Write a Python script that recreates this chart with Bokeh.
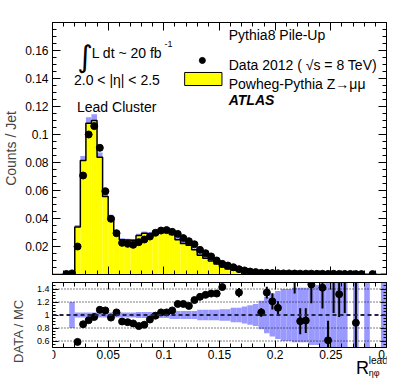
import math
from bokeh.plotting import figure
from bokeh.models import Range1d, FixedTicker, LinearAxis, Label, Span, ColumnDataSource
from bokeh.layouts import column
from bokeh.embed import file_html
from bokeh.resources import INLINE

nan = float("nan")

# ---------------- data ----------------
bin_width = 0.005
n_bins = 60

# MC (Powheg-Pythia Z->mumu), counts / jet per bin
mc = [0, 0, 0, 0.0004, 0.034, 0.0814, 0.108, 0.110, 0.0838, 0.0557,
      0.041, 0.0284, 0.0249, 0.0246, 0.0244, 0.0278, 0.0294, 0.0291, 0.0301, 0.0302,
      0.0305, 0.0285, 0.0248, 0.0222, 0.0209, 0.0176, 0.0137, 0.0116, 0.0097, 0.0075,
      0.0053, 0.0040, 0.0033, 0.0028, 0.0018, 0.0013, 0.0011, 0.00115, 0.0009, 0.0008,
      0.0008, 0.0005, 0.0005, 0.0004, 0.00066, 0.00066, 0.0004, 0.0003, 0.00035, 0.00066,
      0.0003, 0.0003, 0.0002, 0, 0.00034, 0, 0.0002, 0, 0, 0.0002]

# Data 2012
data = [nan, nan, 0.0004, 0.0008, 0.020, 0.0707, 0.100, 0.106, 0.0905, 0.0595,
        0.0398, 0.0295, 0.0226, 0.0219, 0.0212, 0.0231, 0.0250, 0.0271, 0.0298, 0.0314,
        0.0317, 0.0305, 0.0290, 0.0260, 0.0238, 0.0216, 0.0176, 0.0152, 0.0129, 0.0100,
        0.0076, 0.0064, 0.0052, 0.0038, 0.0029, 0.0021, 0.0017, 0.0012, 0.0012, 0.0010,
        0.0009, 0.0008, 0.0008, 0.0007, 0.0006, 0.0006, 0.0006, 0.0005, 0.0005, 0.0004,
        0.0005, 0.0004, 0.0004, 0.0004, 0.0003, 0.0003, nan, 0.0003, nan, nan]

# relative MC uncertainty (band half width)
band_hw = [0, 0, 0, 0.2, 0.04, 0.04, 0.04, 0.04, 0.04, 0.04,
           0.04, 0.04, 0.04, 0.04, 0.04, 0.045, 0.045, 0.045, 0.045, 0.045,
           0.045, 0.06, 0.06, 0.06, 0.06, 0.06, 0.08, 0.08, 0.08, 0.08,
           0.09, 0.09, 0.11, 0.11, 0.13, 0.15, 0.17, 0.22, 0.28, 0.33,
           0.37, 0.40, 0.40, 0.42, 0.42, 0.42, 0.46, 0.46, 0.5, 0.5,
           0.5, 0.5, 0.5, 0, 1.0, 0, 1.0, 0, 0, 1.0]

# DATA / MC ratio and its error
ratio = [nan, nan, nan, nan, 0.586, 0.857, 0.92, 0.97, 1.08, 1.07,
         0.96, 1.04, 0.90, 0.89, 0.87, 0.83, 0.85, 0.93, 0.99, 1.04,
         1.04, 1.07, 1.17, 1.17, 1.14, 1.23, 1.28, 1.31, 1.33, 1.33,
         1.43, nan, nan, 1.345, nan, nan, nan, 1.04, 1.345, 1.21,
         1.11, nan, nan, 1.70, 0.905, 0.915, 1.47, nan, 1.42, 0.61,
         1.70, 1.32, 1.80, nan, 0.88, nan, nan, nan, nan, nan]
ratio_err = [nan, nan, nan, nan, 0.03, 0.015, 0.015, 0.015, 0.015, 0.015,
             0.015, 0.015, 0.02, 0.02, 0.02, 0.02, 0.02, 0.02, 0.02, 0.02,
             0.02, 0.025, 0.025, 0.025, 0.025, 0.025, 0.03, 0.03, 0.03, 0.03,
             0.04, nan, nan, 0.07, nan, nan, nan, 0.065, 0.09, 0.125,
             0.10, nan, nan, 0.37, 0.20, 0.19, 0.29, nan, 0.32, 0.30,
             0.67, 0.35, 0.77, nan, 0.90, nan, nan, nan, nan, nan]

x_ticks = [0, 0.05, 0.1, 0.15, 0.2, 0.25, 0.3]
x_tick_labels = ["0", "0.05", "0.1", "0.15", "0.2", "0.25", "0.3"]
y_ticks = [0.02, 0.04, 0.06, 0.08, 0.1, 0.12, 0.14, 0.16]
y_tick_labels = ["0.02", "0.04", "0.06", "0.08", "0.1", "0.12", "0.14", "0.16"]
r_ticks = [0.6, 0.8, 1.0, 1.2, 1.4]
r_tick_labels = ["0.6", "0.8", "1", "1.2", "1.4"]
r_lo, r_hi = 0.5, 1.5

# ---------------- derived ----------------
lo = [k * bin_width for k in range(n_bins)]
hi = [(k + 1) * bin_width for k in range(n_bins)]
ctr = [(k + 0.5) * bin_width for k in range(n_bins)]
edges = lo + [hi[-1]]

FONT = "Liberation Sans"
x_minor = [i * 0.01 for i in range(31)]
y_minor = [i * 0.005 for i in range(37)]
r_minor = [r_lo + i * 0.05 for i in range(21)]

xr = Range1d(0, 0.3)
W = 396
BL = 45


def style_axis(ax, ticks, major_in, minor_in, labels=None, fsize="12px"):
    ax.major_tick_in = major_in
    ax.major_tick_out = 0
    ax.minor_tick_in = minor_in
    ax.minor_tick_out = 0
    ax.axis_line_color = "black"
    ax.major_tick_line_color = "black"
    ax.minor_tick_line_color = "black"
    ax.major_label_text_font = FONT
    ax.major_label_text_color = "black"
    ax.axis_label_text_font = FONT
    ax.axis_label_text_font_style = "normal"
    if labels is not None:
        ax.major_label_text_font_size = fsize
        ax.major_label_overrides = dict(zip(ticks, labels))
    else:
        ax.major_label_text_font_size = "1px"
        ax.major_label_overrides = {t: "" for t in ticks}
        ax.major_label_standoff = 0


def lab(p, x, y, text, size, style="normal", baseline="alphabetic", font=FONT):
    p.add_layout(Label(x=x, y=y, text=text, text_font=font, text_font_size=size,
                       text_font_style=style, text_baseline=baseline, text_color="black"))


# ---------------- main panel ----------------
p1 = figure(width=W, height=282, x_range=xr, y_range=Range1d(0, 0.18),
            output_backend="svg", toolbar_location=None,
            min_border_left=BL, min_border_right=10, min_border_top=22, min_border_bottom=8)
p1.xgrid.visible = False
p1.ygrid.visible = False
p1.outline_line_color = "black"
p1.background_fill_color = "white"

band_src = ColumnDataSource(dict(
    left=[lo[k] for k in range(n_bins) if mc[k] > 0],
    right=[hi[k] for k in range(n_bins) if mc[k] > 0],
    bottom=[mc[k] * (1 - band_hw[k]) for k in range(n_bins) if mc[k] > 0],
    top=[mc[k] * (1 + band_hw[k]) for k in range(n_bins) if mc[k] > 0]))
p1.quad(left="left", right="right", bottom="bottom", top="top", source=band_src,
        fill_color="#9999ff", line_color=None)
p1.quad(left=lo, right=hi, bottom=[0] * n_bins, top=mc, fill_color="#ffff00", line_color=None)
p1.step(x=edges, y=mc + [mc[-1]], mode="after", line_color="black", line_width=1.5)

dx = [ctr[k] for k in range(n_bins) if not math.isnan(data[k])]
dy = [data[k] for k in range(n_bins) if not math.isnan(data[k])]
p1.scatter(dx, dy, size=7, color="black")

p1.xaxis.ticker = FixedTicker(ticks=x_ticks, minor_ticks=x_minor)
style_axis(p1.xaxis[0], x_ticks, 8, 4)
p1.yaxis.ticker = FixedTicker(ticks=y_ticks, minor_ticks=y_minor)
style_axis(p1.yaxis[0], y_ticks, 8, 4, labels=y_tick_labels)
p1.yaxis.axis_label = "Counts / Jet"
p1.yaxis.axis_label_text_font_size = "14px"
p1.yaxis.axis_label_standoff = 3
p1.yaxis.major_label_standoff = 4

top1 = LinearAxis(ticker=FixedTicker(ticks=x_ticks, minor_ticks=x_minor))
style_axis(top1, x_ticks, 8, 4)
p1.add_layout(top1, "above")
right1 = LinearAxis(ticker=FixedTicker(ticks=y_ticks, minor_ticks=y_minor))
style_axis(right1, y_ticks, 8, 4)
p1.add_layout(right1, "right")

lab(p1, 0.0222, 0.1555, "∫", "30px", font="DejaVu Sans", baseline="middle")
lab(p1, 0.0352, 0.1579, "L dt ~ 20 fb", "14px")
lab(p1, 0.1005, 0.1645, "-1", "9px")
lab(p1, 0.0193, 0.1386, "2.0 < |η| < 2.5", "14px")
lab(p1, 0.0220, 0.1200, "Lead Cluster", "14px")

lab(p1, 0.1583, 0.1714, "Pythia8 Pile-Up", "14px")
p1.scatter([0.1346], [0.1529], size=6, color="black")
lab(p1, 0.1583, 0.1500, "Data 2012 ( √s = 8 TeV)", "14px")
p1.quad(left=[0.1187], right=[0.1522], bottom=[0.1350], top=[0.1443],
        fill_color="#ffff00", line_color="black", line_width=1)
lab(p1, 0.1583, 0.1364, "Powheg-Pythia Z→μμ", "14px")
lab(p1, 0.1583, 0.1250, "ATLAS", "14px", style="bold italic")

# ---------------- ratio panel ----------------
# the frame extends below the ratio range so the x-axis title fits inside the canvas;
# the visible panel box is drawn by axes bounded to [r_lo, r_hi].
p2 = figure(width=W, height=97, x_range=xr, y_range=Range1d(0.0077, r_hi),
            output_backend="svg", toolbar_location=None,
            min_border_left=BL, min_border_right=10, min_border_top=0, min_border_bottom=0)
p2.xgrid.visible = False
p2.ygrid.visible = False
p2.outline_line_color = None

rb_src = ColumnDataSource(dict(
    left=[lo[k] for k in range(n_bins) if band_hw[k] > 0],
    right=[hi[k] for k in range(n_bins) if band_hw[k] > 0],
    bottom=[max(r_lo, 1 - band_hw[k]) for k in range(n_bins) if band_hw[k] > 0],
    top=[1 + band_hw[k] for k in range(n_bins) if band_hw[k] > 0]))
p2.quad(left="left", right="right", bottom="bottom", top="top", source=rb_src,
        fill_color="#9999ff", line_color=None)

for yv in [0.6, 0.8, 1.2, 1.4]:
    p2.add_layout(Span(location=yv, dimension="width", line_color="black",
                       line_width=1, line_dash="1 2", level="overlay"))
p2.add_layout(Span(location=1.0, dimension="width", line_color="#22224a",
                   line_width=2, line_dash="4 3", level="overlay"))

rk = [k for k in range(n_bins) if not math.isnan(ratio[k])]
p2.segment(x0=[ctr[k] for k in rk], x1=[ctr[k] for k in rk],
           y0=[max(r_lo, ratio[k] - ratio_err[k]) for k in rk],
           y1=[ratio[k] + ratio_err[k] for k in rk],
           line_color="black", line_width=2)
rv = [k for k in rk if ratio[k] < r_hi]
p2.scatter([ctr[k] for k in rv], [ratio[k] for k in rv], size=7, color="black")

p2.xaxis.ticker = FixedTicker(ticks=x_ticks, minor_ticks=x_minor)
style_axis(p2.xaxis[0], x_ticks, 7, 4, labels=x_tick_labels)
p2.xaxis.fixed_location = r_lo
p2.xaxis.major_label_standoff = 2
p2.yaxis.ticker = FixedTicker(ticks=r_ticks, minor_ticks=r_minor)
style_axis(p2.yaxis[0], r_ticks, 6, 3, labels=r_tick_labels, fsize="9px")
p2.yaxis.bounds = (r_lo, r_hi)
p2.yaxis.axis_label = "DATA / MC"
p2.yaxis.axis_label_text_font_size = "13px"
p2.yaxis.axis_label_standoff = 8
p2.yaxis.major_label_standoff = 3

top2 = LinearAxis(ticker=FixedTicker(ticks=x_ticks, minor_ticks=x_minor))
style_axis(top2, x_ticks, 7, 4)
p2.add_layout(top2, "above")
right2 = LinearAxis(ticker=FixedTicker(ticks=r_ticks, minor_ticks=r_minor), bounds=(r_lo, r_hi))
style_axis(right2, r_ticks, 6, 3)
p2.add_layout(right2, "right")

lab(p2, 0.2726, 0.177, "R", "18px")
lab(p2, 0.2841, 0.30, "lead", "10px")
lab(p2, 0.2841, 0.115, "ηφ", "9px")

layout = column(p1, p2)
open("out.html", "w").write(file_html(layout, INLINE))
